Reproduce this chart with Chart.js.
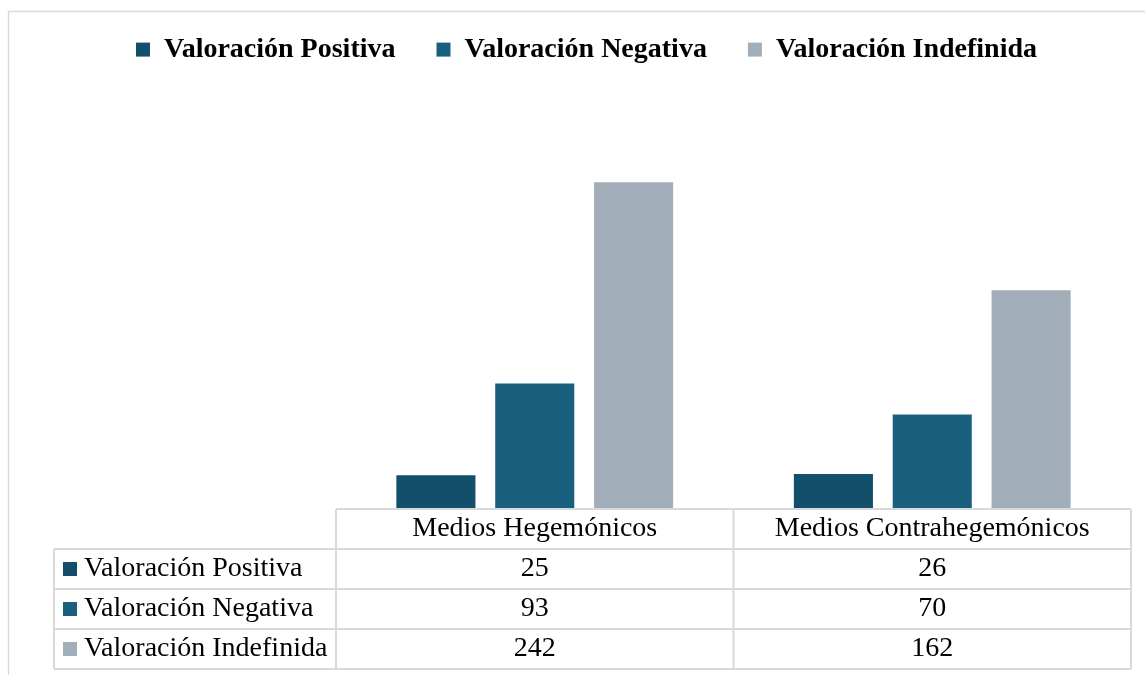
<!DOCTYPE html>
<html><head><meta charset="utf-8">
<script src="https://cdn.jsdelivr.net/npm/chart.js@4"></script>
<style>html,body{margin:0;padding:0;background:#fff;} canvas{display:block;}</style>
</head><body>
<canvas id="c" width="1145" height="675"></canvas>
<script>
const categories = ['Medios Hegemónicos', 'Medios Contrahegemónicos'];
const seriesNames = ['Valoración Positiva', 'Valoración Negativa', 'Valoración Indefinida'];
const positiva = [25, 26];
const negativa = [93, 70];
const indefinida = [242, 162];
const seriesColors = ['#134e6a', '#19607f', '#a2aeb9'];

const FONT = "'Liberation Serif','Times New Roman',serif";
const PLOT_TOP = 104;
const PAD_TOP = -5.4;

const framePlugin = {
  id: 'frame',
  beforeDraw(chart) {
    const ctx = chart.ctx;
    ctx.save();
    ctx.fillStyle = '#fff';
    ctx.fillRect(0, 0, chart.width, chart.height);
    ctx.strokeStyle = '#d9d9d9';
    ctx.lineWidth = 1.5;
    ctx.strokeRect(8.5, 11.5, chart.width + 50, chart.height + 50);
    ctx.restore();
  }
};

const legendHeightPlugin = {
  id: 'legendHeight',
  beforeUpdate(chart) {
    const lg = chart.legend;
    if (lg && !lg._fixedFit) {
      const orig = lg.fit;
      lg.fit = function () { orig.call(this); this.height = PLOT_TOP - PAD_TOP; };
      lg._fixedFit = true;
    }
  }
};

const tablePlugin = {
  id: 'dataTable',
  afterDraw(chart) {
    const ctx = chart.ctx, x = chart.scales.x, area = chart.chartArea;
    const n = chart.data.labels.length;
    const colW = (x.right - x.left) / n;
    const rowH = 40;
    const top = area.bottom;
    const labelLeft = x.left - 282;
    const rows = chart.data.datasets.length;
    const bottom = top + rowH * (rows + 1);
    ctx.save();
    ctx.strokeStyle = '#d9d9d9';
    ctx.lineWidth = 2;
    ctx.beginPath();
    ctx.moveTo(x.left, top); ctx.lineTo(x.right, top);
    for (let r = 1; r <= rows + 1; r++) {
      const y = top + r * rowH;
      ctx.moveTo(labelLeft, y); ctx.lineTo(x.right, y);
    }
    ctx.moveTo(labelLeft, top + rowH); ctx.lineTo(labelLeft, bottom);
    for (let c = 0; c <= n; c++) {
      const xx = x.left + c * colW;
      ctx.moveTo(xx, top); ctx.lineTo(xx, bottom);
    }
    ctx.stroke();
    ctx.font = '28px ' + FONT;
    ctx.textBaseline = 'middle';
    ctx.fillStyle = '#000';
    ctx.textAlign = 'center';
    chart.data.labels.forEach((lab, i) => ctx.fillText(lab, x.getPixelForValue(i), top + rowH / 2));
    chart.data.datasets.forEach((ds, r) => {
      const yc = top + rowH * (r + 1) + rowH / 2;
      ctx.fillStyle = '#000';
      ctx.textAlign = 'center';
      ds.data.forEach((v, i) => ctx.fillText(String(v), x.getPixelForValue(i), yc));
      ctx.textAlign = 'left';
      ctx.fillText(ds.label, labelLeft + 30, yc);
      ctx.fillStyle = ds.backgroundColor;
      ctx.fillRect(labelLeft + 9, yc - 7, 14, 14);
    });
    ctx.restore();
  }
};

const seriesValues = [positiva, negativa, indefinida];

new Chart(document.getElementById('c'), {
  type: 'bar',
  data: {
    labels: categories,
    datasets: seriesNames.map((name, i) => ({
      label: name,
      data: seriesValues[i],
      backgroundColor: seriesColors[i],
      borderWidth: 0,
      barPercentage: 0.8,
      categoryPercentage: 0.746
    }))
  },
  options: {
    responsive: false,
    animation: false,
    layout: { padding: { top: PAD_TOP, left: 42, right: 14, bottom: 166 } },
    scales: {
      x: { display: false },
      y: {
        min: 0, max: 300,
        display: true,
        ticks: { display: false },
        grid: { display: false },
        border: { display: false },
        afterFit(s) { s.width = 336 - 42; }
      }
    },
    plugins: {
      tooltip: { enabled: false },
      legend: {
        position: 'top',
        align: 'center',
        labels: {
          boxWidth: 14, boxHeight: 14, padding: 41, color: '#000',
          font: { family: FONT, size: 28, weight: 'bold' }
        }
      }
    }
  },
  plugins: [framePlugin, legendHeightPlugin, tablePlugin]
});
</script>
</body></html>
